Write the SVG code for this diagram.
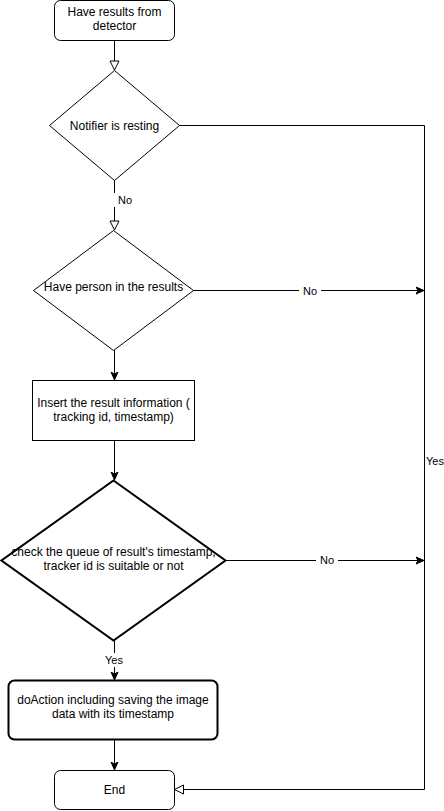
<svg xmlns="http://www.w3.org/2000/svg" width="444" height="811" viewBox="0 0 444 811">
<style>
.s{fill:#fff;stroke:#000;stroke-width:1}
.t{stroke-width:2}
.c{fill:none;stroke:#000;stroke-width:1}
text{font-family:"Liberation Sans",Arial,sans-serif;font-size:12px;fill:#000;text-anchor:middle}
.l{font-size:11px}
.lb{fill:#fff;stroke:none}
</style>
<defs>
<marker id="open" markerUnits="userSpaceOnUse" markerWidth="12" markerHeight="12" viewBox="0 0 12 12" refX="10" refY="6" orient="auto">
<path d="M1,1.5 L10,6 L1,10.5 Z" fill="#fff" stroke="#000" stroke-width="1"/>
</marker>
<marker id="fill" markerUnits="userSpaceOnUse" markerWidth="10" markerHeight="10" viewBox="0 0 10 10" refX="8" refY="5" orient="auto">
<path d="M0,1.5 L8,5 L0,8.5 L2,5 Z" fill="#000" stroke="#000" stroke-width="1"/>
</marker>
</defs>
<g id="connectors">
<path class="c" d="M114.5,40.5 V70" marker-end="url(#open)"/>
<path class="c" d="M179,125.5 H424.5 V789.5 H174.5" marker-end="url(#open)"/>
<path class="c" d="M114.5,180 V230" marker-end="url(#open)"/>
<path class="c" d="M193,290.5 H424" marker-end="url(#fill)"/>
<path class="c" d="M114.5,350 V380" marker-end="url(#fill)"/>
<path class="c" d="M114.5,440.5 V480" marker-end="url(#fill)"/>
<path class="c" d="M226,560.5 H424" marker-end="url(#fill)"/>
<path class="c" d="M114.5,640 V680" marker-end="url(#fill)"/>
<path class="c" d="M114.5,740 V770" marker-end="url(#fill)"/>
<rect class="lb" x="114" y="193" width="20" height="14"/>
<text class="l" x="125" y="204">No</text>
<rect class="lb" x="299" y="284" width="22" height="14"/>
<text class="l" x="310" y="295">No</text>
<rect class="lb" x="316" y="554" width="22" height="14"/>
<text class="l" x="327" y="564">No</text>
<rect class="lb" x="102" y="653" width="24" height="14"/>
<text class="l" x="114" y="664">Yes</text>
<text class="l" x="435" y="465">Yes</text>
</g>
<g id="start">
<rect class="s" x="54.5" y="0.5" width="120" height="40" rx="6"/>
<text x="114.5" y="16">Have results from</text>
<text x="114.5" y="30">detector</text>
</g>
<g id="notifier">
<path class="s" d="M114.5,70.5 L179.5,125.5 L114.5,180.5 L49.5,125.5 Z"/>
<text x="114.5" y="129.5">Notifier is resting</text>
</g>
<g id="person">
<path class="s" d="M113.5,230.5 L193.5,290.5 L113.5,350.5 L33.5,290.5 Z"/>
<text x="113.5" y="291">Have person in the results</text>
</g>
<g id="insert">
<rect class="s" x="32.5" y="380.5" width="162" height="60"/>
<text x="113.5" y="407">Insert the result information (</text>
<text x="113.5" y="421">tracking id, timestamp)</text>
</g>
<g id="check">
<path class="s t" d="M113.5,480.5 L225.5,560.5 L113.5,640.5 L1.5,560.5 Z"/>
<text x="113.5" y="556">check the queue of result's timestamp,</text>
<text x="113.5" y="570">tracker id is suitable or not</text>
</g>
<g id="doaction">
<rect class="s t" x="8.5" y="680.5" width="209" height="59" rx="6"/>
<text x="113" y="704">doAction including saving the image</text>
<text x="113" y="718">data with its timestamp</text>
</g>
<g id="end">
<rect class="s" x="54.5" y="770.5" width="120" height="39" rx="6"/>
<text x="114.5" y="794">End</text>
</g>
</svg>
